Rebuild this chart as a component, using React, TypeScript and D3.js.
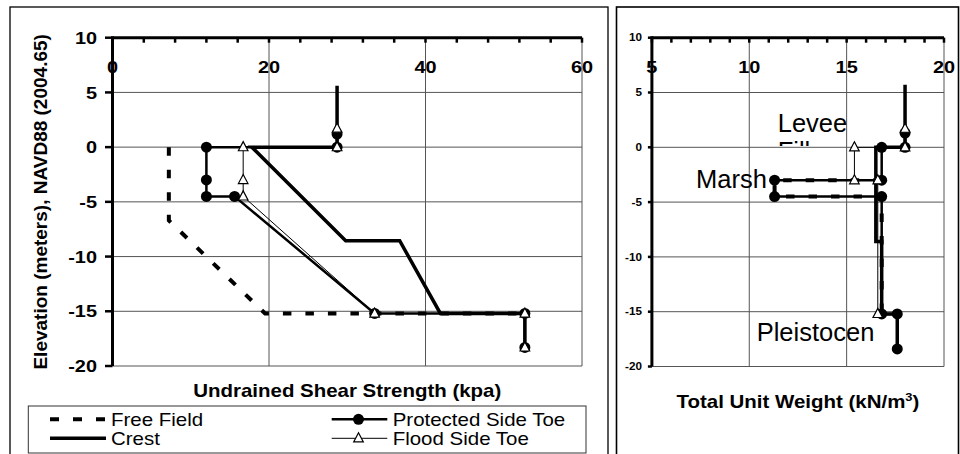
import React from 'react';
import * as d3 from 'd3';

// left panel: undrained shear strength (kPa) vs elevation (m)
const freeFieldSu = [7.2, 7.2, 19.5, 52.7];
const freeFieldSuElev = [0, -6.7, -15.2, -15.2];
const crestSu = [28.7, 28.7, 17.8, 29.8, 36.7, 41.9, 52.7, 52.7];
const crestSuElev = [5.6, 0, 0, -8.55, -8.55, -15.2, -15.2, -18.4];
const protectedSu = [28.7, 28.7, 12.0, 12.0, 12.0, 15.6, 33.5, 52.7, 52.7];
const protectedSuElev = [1.2, 0, 0, -3, -4.5, -4.5, -15.2, -15.2, -18.3];
const floodSu = [28.7, 28.7, 16.7, 16.7, 16.7, 33.5, 52.7, 52.7];
const floodSuElev = [1.7, 0, 0, -3, -4.5, -15.2, -15.2, -18.3];

// right panel: total unit weight (kN/m3) vs elevation (m)
const freeFieldGamma = [16.8, 11.3, 11.3, 16.8, 16.8];
const freeFieldGammaElev = [-3, -3, -4.5, -4.5, -15.2];
const crestGamma = [18, 18, 16.5, 16.5, 16.8, 16.8, 17.6, 17.6];
const crestGammaElev = [5.7, 0, 0, -8.6, -8.6, -15.2, -15.2, -18.4];
const protectedGamma = [18, 18, 16.8, 16.8, 11.3, 11.3, 16.8, 16.8, 17.6, 17.6];
const protectedGammaElev = [1.3, 0, 0, -3, -3, -4.5, -4.5, -15.2, -15.2, -18.4];
const floodGamma = [18, 18, 15.4, 15.4, 16.6, 16.6];
const floodGammaElev = [1.7, 0, 0, -3, -3, -15.2];

const elevTicks = [10, 5, 0, -5, -10, -15, -20];
const suTicks = [0, 20, 40, 60];
const gammaTicks = [5, 10, 15, 20];
const layerLabels = ['Levee', 'Marsh', 'Pleistocen'];
const legendNames = ['Free Field', 'Crest', 'Protected Side Toe', 'Flood Side Toe'];

const FONT = '"Liberation Sans", Arial, sans-serif';
const SX = 1.17;
const DASH = '8.5 14';
const GRID = '#555';

type P = [number, number];
const zipPts = (xs: number[], ys: number[]): P[] => xs.map((x, i) => [x, ys[i]]);

function Txt(props: { x: number; y: number; size: number; anchor?: string; bold?: boolean; children: React.ReactNode; sx?: number }) {
  const { x, y, size, anchor = 'start', bold = false, children, sx = SX } = props;
  return (
    <text
      transform={`translate(${x},${y}) scale(${sx},1)`}
      textAnchor={anchor as any}
      fontFamily={FONT}
      fontSize={size}
      fontWeight={bold ? 'bold' : 'normal'}
      fill="#000"
    >
      {children}
    </text>
  );
}

const triPath = 'M0,-5.5L4.8,3.6L-4.8,3.6Z';

function Panel(props: {
  x: d3.ScaleLinear<number, number>;
  y: d3.ScaleLinear<number, number>;
  xTicks: number[];
  minorStep: number;
  yLabelSize: number;
  yLabelEnd: number;
  yTickLen: number;
  series: { ff: P[]; crest: P[]; prot: P[]; flood: P[] };
}) {
  const { x, y, xTicks, minorStep, yLabelSize, yLabelEnd, yTickLen, series } = props;
  const [x0, x1] = x.domain();
  const line = d3.line<P>().x(d => x(d[0])).y(d => y(d[1]));
  const minor = d3.range(x0, x1 + 0.001, minorStep);
  const top = y(10);
  const bottom = y(-20);
  return (
    <g>
      {/* grid */}
      {elevTicks.filter(t => t < 10).map(t => (
        <line key={'h' + t} x1={x(x0)} x2={x(x1)} y1={y(t)} y2={y(t)} stroke={GRID} strokeWidth={1} />
      ))}
      {xTicks.filter(t => t > x0).map(t => (
        <line key={'v' + t} x1={x(t)} x2={x(t)} y1={top} y2={bottom} stroke={GRID} strokeWidth={1} />
      ))}
      {/* series */}
      <path d={line(series.ff) || ''} fill="none" stroke="#000" strokeWidth={4} strokeDasharray={DASH} />
      <path d={line(series.crest) || ''} fill="none" stroke="#000" strokeWidth={3.5} />
      <path d={line(series.prot) || ''} fill="none" stroke="#000" strokeWidth={2.5} />
      <path d={line(series.flood) || ''} fill="none" stroke="#000" strokeWidth={1} />
      {series.prot.map((d, i) => (
        <circle key={'c' + i} cx={x(d[0])} cy={y(d[1])} r={5.5} fill="#000" />
      ))}
      {series.flood.map((d, i) => (
        <path key={'t' + i} d={triPath} transform={`translate(${x(d[0])},${y(d[1])})`} fill="#fff" stroke="#000" strokeWidth={1.2} />
      ))}
      {/* axes */}
      <line x1={x(x0)} x2={x(x1)} y1={top} y2={top} stroke="#000" strokeWidth={3} />
      <line x1={x(x0)} x2={x(x0)} y1={top - 1.5} y2={bottom} stroke="#000" strokeWidth={3} />
      {minor.map(t => (
        <line key={'m' + t} x1={x(t)} x2={x(t)} y1={top} y2={top + 5} stroke="#000" strokeWidth={2.5} />
      ))}
      {elevTicks.map(t => (
        <line key={'yt' + t} x1={x(x0) - yTickLen} x2={x(x0)} y1={y(t)} y2={y(t)} stroke="#000" strokeWidth={2.5} />
      ))}
      {elevTicks.map(t => (
        <Txt key={'yl' + t} x={yLabelEnd} y={y(t) + yLabelSize * 0.36} size={yLabelSize} anchor="end" bold>
          {t}
        </Txt>
      ))}
      {xTicks.map(t => (
        <Txt key={'xl' + t} x={x(t)} y={73} size={17} anchor="middle" bold>
          {t}
        </Txt>
      ))}
    </g>
  );
}

export default function App() {
  const xSu = d3.scaleLinear().domain([0, 60]).range([112.5, 582]);
  const ySu = d3.scaleLinear().domain([-20, 10]).range([366, 37.7]);
  const xG = d3.scaleLinear().domain([5, 20]).range([651.9, 944]);
  const yG = d3.scaleLinear().domain([-20, 10]).range([366.5, 37.7]);

  return (
    <svg width={960} height={454} style={{ position: 'absolute', left: 0, top: 0, background: '#fff' }}>
      <defs>
        <clipPath id="fillClip">
          <rect x={770} y={130} width={80} height={16} />
        </clipPath>
      </defs>
      <rect x={0} y={0} width={960} height={454} fill="#fff" />
      <rect x={10} y={7} width={598} height={470} fill="none" stroke="#000" strokeWidth={1.3} />
      <rect x={616.5} y={7} width={342} height={470} fill="none" stroke="#000" strokeWidth={1.6} />

      <Panel
        x={xSu}
        y={ySu}
        xTicks={suTicks}
        minorStep={4}
        yLabelSize={17}
        yLabelEnd={97}
        yTickLen={7.5}
        series={{
          ff: zipPts(freeFieldSu, freeFieldSuElev),
          crest: zipPts(crestSu, crestSuElev),
          prot: zipPts(protectedSu, protectedSuElev),
          flood: zipPts(floodSu, floodSuElev),
        }}
      />
      <Panel
        x={xG}
        y={yG}
        xTicks={gammaTicks}
        minorStep={1}
        yLabelSize={10}
        yLabelEnd={642}
        yTickLen={4}
        series={{
          ff: zipPts(freeFieldGamma, freeFieldGammaElev),
          crest: zipPts(crestGamma, crestGammaElev),
          prot: zipPts(protectedGamma, protectedGammaElev),
          flood: zipPts(floodGamma, floodGammaElev),
        }}
      />

      {/* axis titles */}
      <text
        transform={`translate(46.7,${(ySu(10) + ySu(-20)) / 2}) rotate(-90)`}
        textAnchor="middle"
        fontFamily={FONT}
        fontSize={19}
        fontWeight="bold"
      >
        Elevation (meters), NAVD88 (2004.65)
      </text>
      <Txt x={(xSu(0) + xSu(60)) / 2} y={397} size={17.5} anchor="middle" bold>
        Undrained Shear Strength (kpa)
      </Txt>
      <Txt x={(xG(5) + xG(20)) / 2} y={408} size={17.5} anchor="middle" bold>
        Total Unit Weight (kN/m<tspan dy={-7} fontSize={11}>3</tspan><tspan dy={7}>)</tspan>
      </Txt>

      {/* layer labels */}
      <Txt x={777.7} y={131.7} size={25.5} sx={1}>{layerLabels[0]}</Txt>
      <g clipPath="url(#fillClip)">
        <Txt x={777.7} y={159.5} size={25.5} sx={1}>Fill</Txt>
      </g>
      <Txt x={696} y={188.3} size={25.5} sx={1}>{layerLabels[1]}</Txt>
      <Txt x={756.7} y={340.7} size={25.5} sx={1}>{layerLabels[2]}</Txt>

      {/* legend */}
      <rect x={28.3} y={406} width={557.7} height={47} fill="#fff" stroke="#333" strokeWidth={1} />
      <line x1={50} x2={106} y1={419.3} y2={419.3} stroke="#000" strokeWidth={4} strokeDasharray="9 14" />
      <line x1={50} x2={106} y1={438.3} y2={438.3} stroke="#000" strokeWidth={3.5} />
      <Txt x={111} y={425.5} size={17.5}>{legendNames[0]}</Txt>
      <Txt x={111} y={444.5} size={17.5}>{legendNames[1]}</Txt>
      <line x1={331.7} x2={387.3} y1={419.3} y2={419.3} stroke="#000" strokeWidth={2.5} />
      <circle cx={358.5} cy={419.3} r={5.5} fill="#000" />
      <line x1={331.7} x2={387.3} y1={438.3} y2={438.3} stroke="#000" strokeWidth={1} />
      <path d={triPath} transform="translate(358.5,438.3)" fill="#fff" stroke="#000" strokeWidth={1.2} />
      <Txt x={392.7} y={425.5} size={17.5}>{legendNames[2]}</Txt>
      <Txt x={392.7} y={444.5} size={17.5}>{legendNames[3]}</Txt>
    </svg>
  );
}
